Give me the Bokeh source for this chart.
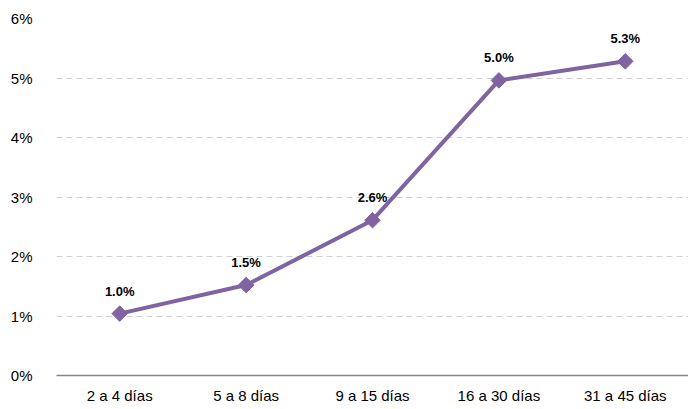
import math
from bokeh.plotting import figure
from bokeh.models import ColumnDataSource, FixedTicker, NumeralTickFormatter, LabelSet
from bokeh.core.properties import value
from bokeh.embed import file_html
from bokeh.resources import INLINE

categories = ["2 a 4 días", "5 a 8 días", "9 a 15 días", "16 a 30 días", "31 a 45 días"]
values = [0.0104, 0.0152, 0.0261, 0.0496, 0.0528]
labels = ["1.0%", "1.5%", "2.6%", "5.0%", "5.3%"]
y_ticks = [0, 0.01, 0.02, 0.03, 0.04, 0.05, 0.06]

color = "#8064A2"
font = "Liberation Sans"

src = ColumnDataSource(dict(x=categories, y=values, label=labels))

p = figure(x_range=categories, y_range=(0, 0.06), width=688, height=406,
           output_backend="svg", toolbar_location=None,
           min_border_left=56, min_border_right=0, min_border_top=18, min_border_bottom=27)
p.outline_line_color = None
p.background_fill_color = "white"

p.line("x", "y", source=src, line_color=color, line_width=4)
p.scatter("x", "y", source=src, marker="square", angle=math.pi / 4, size=11,
          fill_color=color, line_color=color)

p.add_layout(LabelSet(x="x", y="y", text="label", source=src, y_offset=15,
                      text_align="center", text_baseline="bottom",
                      text_font=value(font), text_font_style="bold", text_font_size="13px",
                      text_color="#000000"))

p.yaxis.ticker = FixedTicker(ticks=y_ticks)
p.yaxis.formatter = NumeralTickFormatter(format="0%")
p.yaxis.axis_line_color = None
p.yaxis.major_tick_line_color = None
p.yaxis.minor_tick_line_color = None
p.yaxis.major_label_text_font = font
p.yaxis.major_label_text_font_size = "15px"
p.yaxis.major_label_text_color = "#000000"
p.yaxis.major_label_standoff = 18

p.xaxis.axis_line_color = "#868686"
p.xaxis.axis_line_width = 1.5
p.xaxis.major_tick_line_color = None
p.xaxis.minor_tick_line_color = None
p.xaxis.major_label_text_font = font
p.xaxis.major_label_text_font_size = "15px"
p.xaxis.major_label_text_color = "#000000"
p.xaxis.major_label_standoff = 5

p.xgrid.grid_line_color = None
p.ygrid.grid_line_color = "#D0D0D0"
p.ygrid.grid_line_dash = "6 4"
p.ygrid.grid_line_width = 1

open("out.html", "w").write(file_html(p, INLINE))
